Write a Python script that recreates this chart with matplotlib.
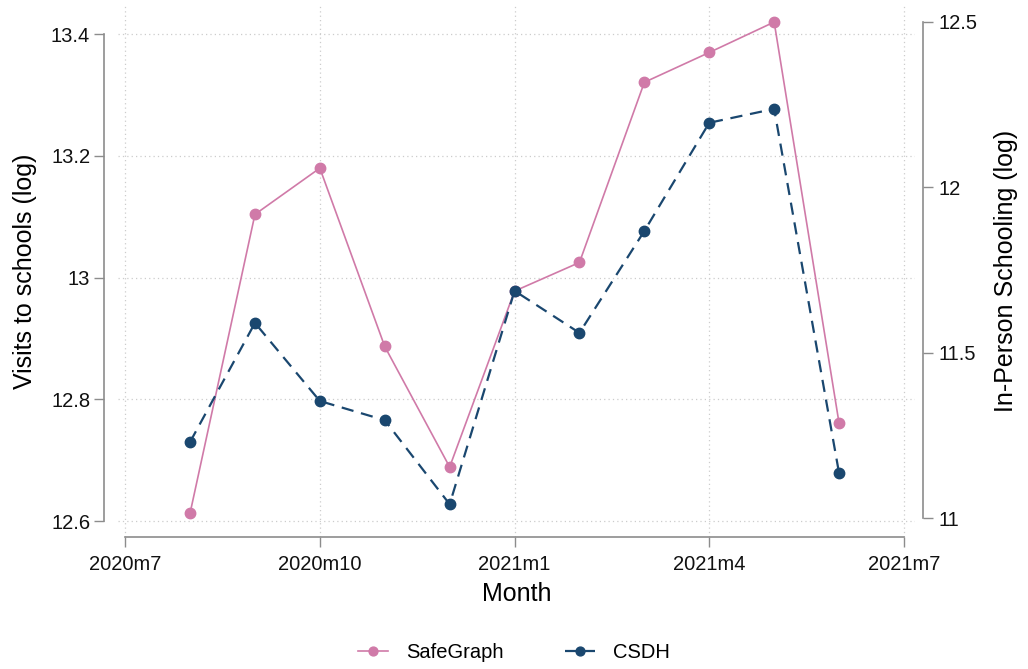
import matplotlib.pyplot as plt
import numpy as np

plt.rcParams['font.family'] = ['Liberation Sans', 'DejaVu Sans']

# months since 2020m7
months = np.arange(1, 12)  # 2020m8 .. 2021m6
safegraph = [12.613, 13.104, 13.180, 12.887, 12.689, 12.978, 13.025, 13.321, 13.370, 13.420, 12.761]
csdh = [11.230, 11.590, 11.354, 11.296, 11.042, 11.687, 11.560, 11.868, 12.195, 12.237, 11.136]

xtick_pos = [0, 3, 6, 9, 12]
xtick_labels = ['2020m7', '2020m10', '2021m1', '2021m4', '2021m7']
left_ticks = [12.6, 12.8, 13.0, 13.2, 13.4]
left_labels = ['12.6', '12.8', '13', '13.2', '13.4']
right_ticks = [11, 11.5, 12, 12.5]
right_labels = ['11', '11.5', '12', '12.5']

pink = '#d07aa8'
navy = '#1a476f'
spine_col = '#8c8c8c'

fig = plt.figure(figsize=(10.28, 6.69), dpi=100)
ax = fig.add_axes([118 / 1028, 132 / 669, 797 / 1028, 532 / 669])
ax2 = ax.twinx()

l1, = ax.plot(months, safegraph, color=pink, lw=1.2, marker='o', ms=7.5, label='SafeGraph')
l2, = ax2.plot(months, csdh, color=navy, lw=1.6, ls=(0, (5.5, 3.5)), marker='o', ms=7.5,
               label='CSDH')

ax.set_xlim(-0.11, 12.17)
ax.set_ylim(12.574, 13.448)
ax2.set_ylim(10.943, 12.551)

ax.set_xticks(xtick_pos)
ax.set_xticklabels(xtick_labels)
ax.set_yticks(left_ticks)
ax.set_yticklabels(left_labels)
ax2.set_yticks(right_ticks)
ax2.set_yticklabels(right_labels)

ax.grid(True, color='#cccccc', ls=(0, (1, 2.5)), lw=0.9)
ax.set_axisbelow(True)

for a in (ax, ax2):
    a.spines['top'].set_visible(False)
    a.tick_params(colors=spine_col, labelcolor='#111111', labelsize=14.5,
                  length=7, width=1)
    for s in a.spines.values():
        s.set_color(spine_col)
        s.set_linewidth(1.2)
ax.spines['right'].set_visible(False)
ax2.spines['left'].set_visible(False)
ax2.spines['bottom'].set_visible(False)
ax.spines['left'].set_position(('outward', 10))
ax.spines['left'].set_bounds(12.6, 13.4)
ax2.spines['right'].set_position(('outward', 6))
ax2.spines['right'].set_bounds(11, 12.5)
ax.spines['bottom'].set_bounds(0, 12)
ax.tick_params(axis='x', pad=6)
ax.tick_params(axis='y', pad=3)
ax2.tick_params(axis='y', pad=4)

ax.set_xlabel('Month', fontsize=18, labelpad=6)
ax.set_ylabel('Visits to schools (log)', fontsize=18, labelpad=10)
ax2.set_ylabel('In-Person Schooling (log)', fontsize=18, labelpad=12)

fig.legend(handles=[l1, l2], loc='center', bbox_to_anchor=(0.5, 0.025), ncol=2,
           frameon=False, fontsize=14.5, handlelength=1.5, columnspacing=3.0,
           handletextpad=0.9, markerscale=0.85)

fig.savefig('out.png', dpi=100)
